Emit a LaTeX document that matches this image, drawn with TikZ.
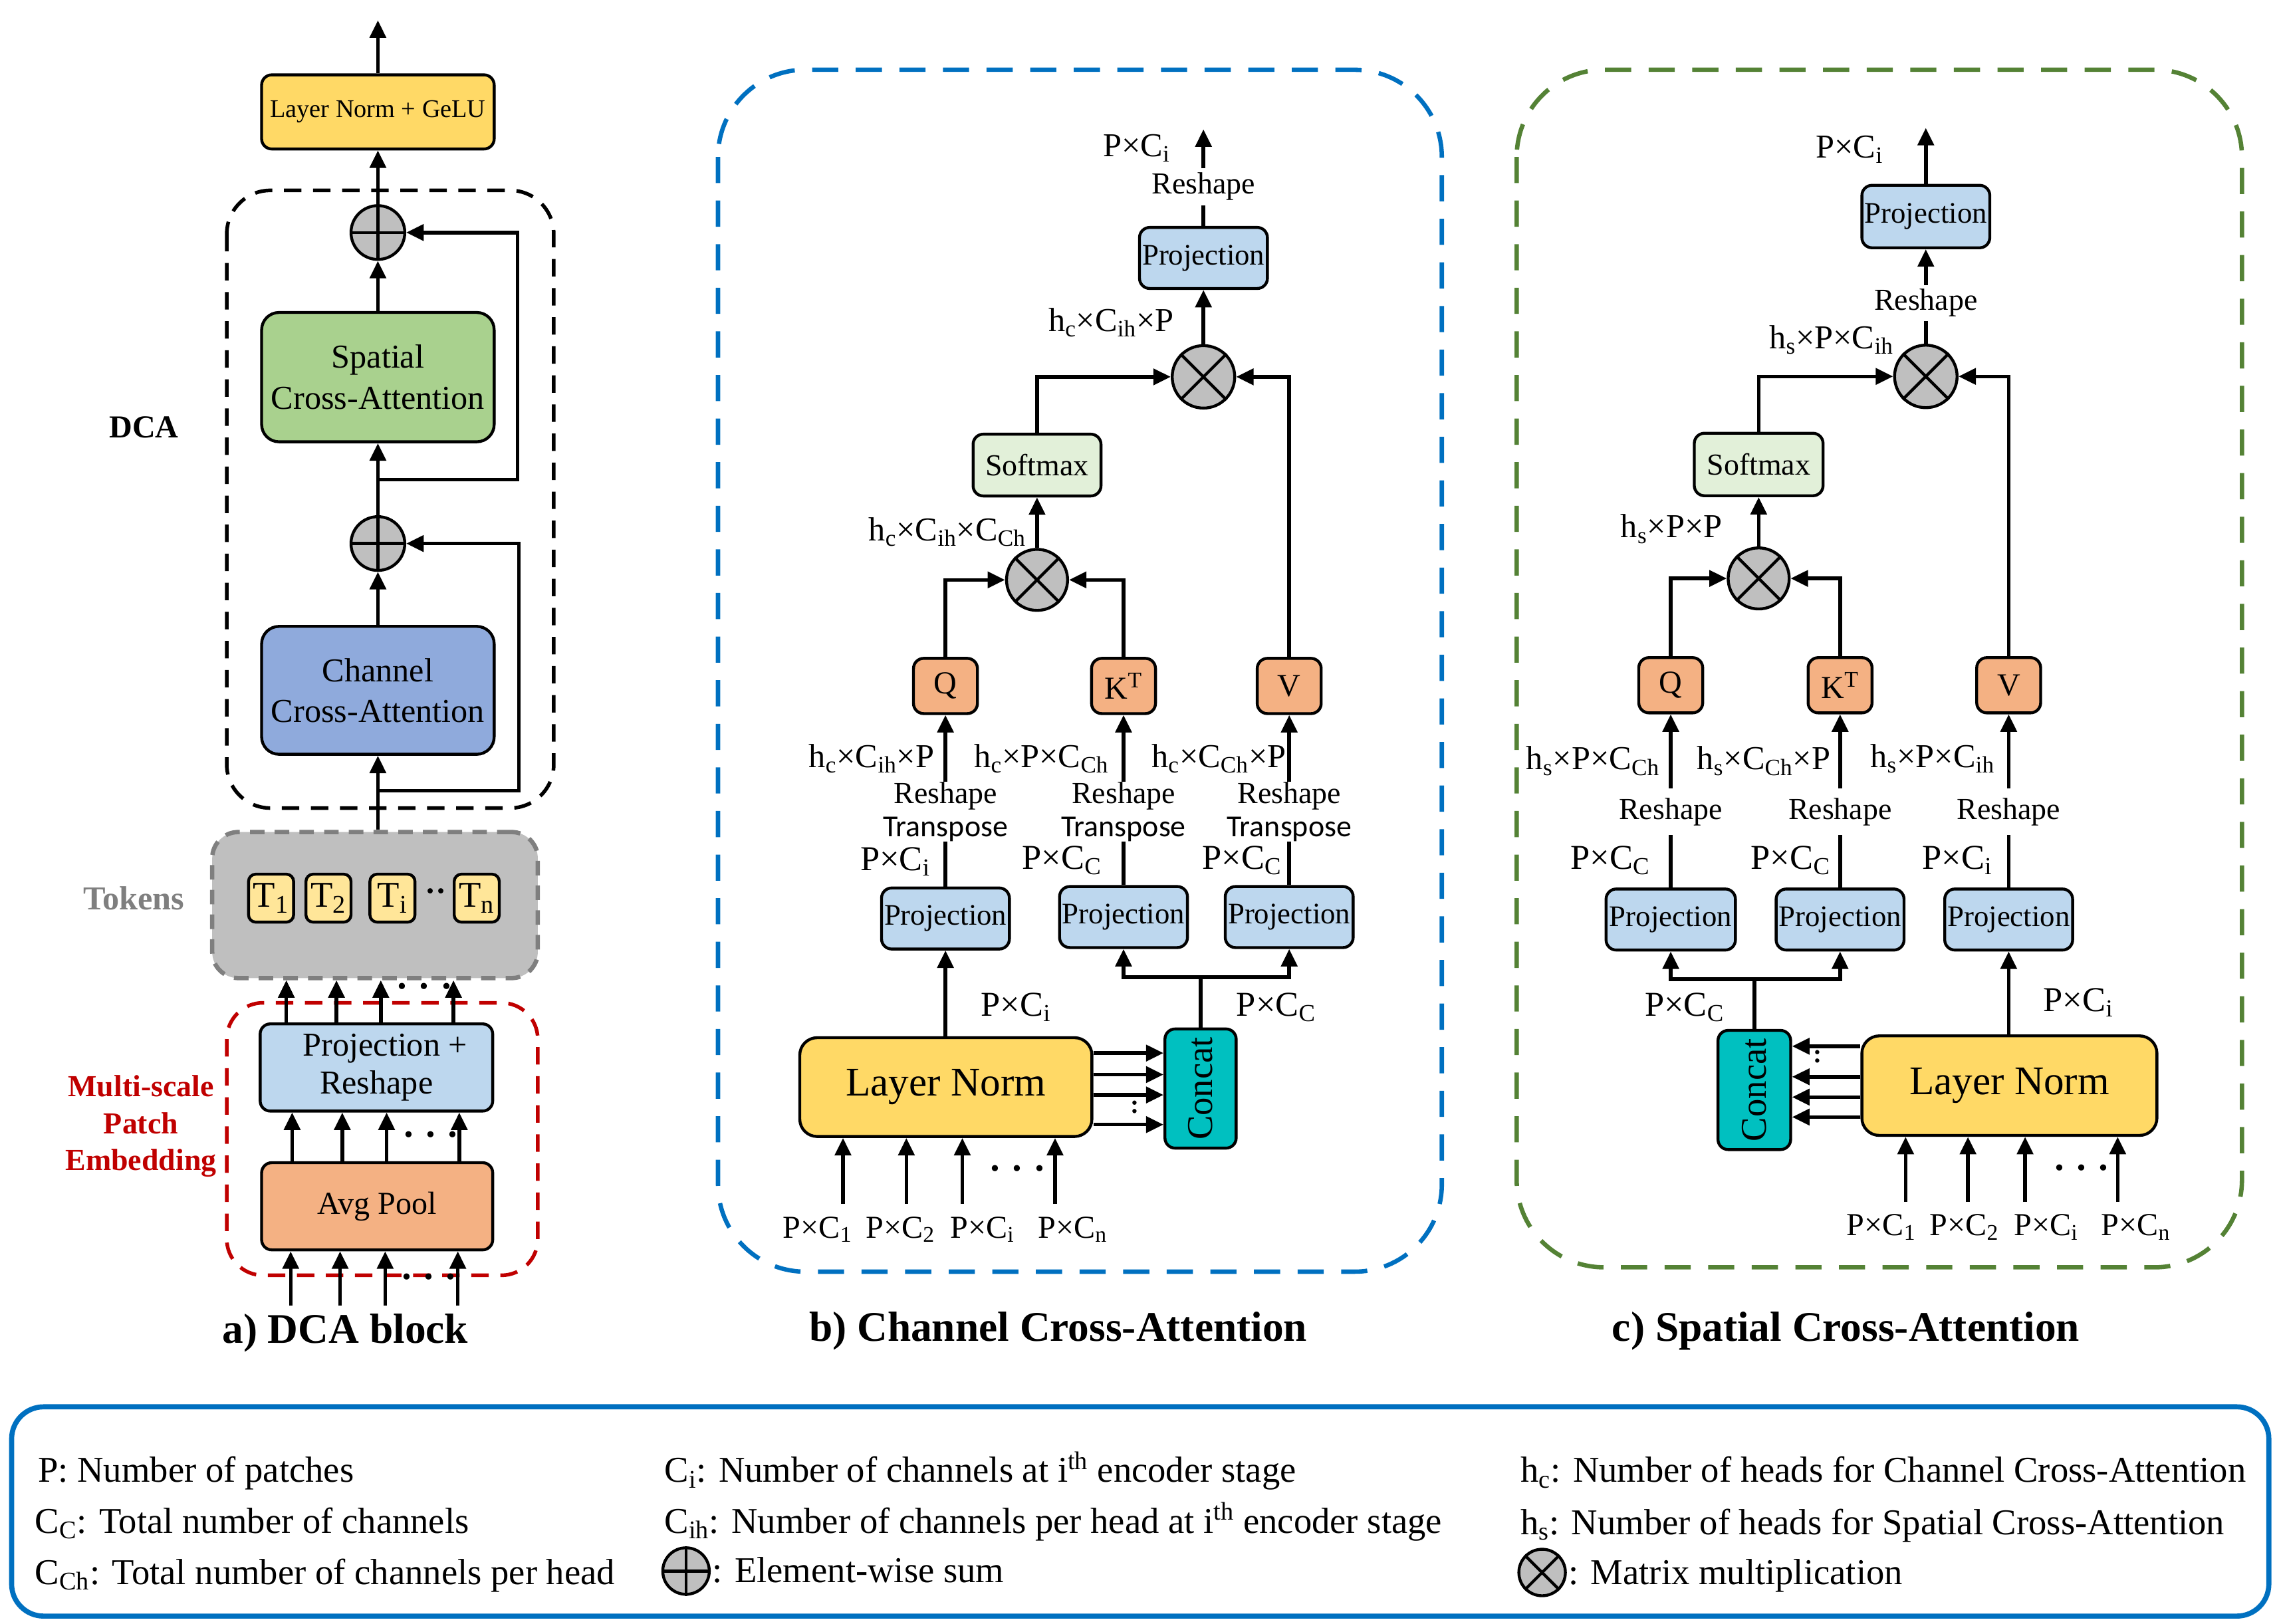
\documentclass[tikz,border=0pt]{standalone}
\usepackage{fontspec}
\usepackage{graphicx}
\setmainfont{Liberation Serif}
\newfontfamily\tfont{Carlito}
\usetikzlibrary{arrows.meta,calc}
\newcommand{\fsz}[2]{\fontsize{#1}{#2}\selectfont}
\newcommand{\sbs}[1]{\textsubscript{#1}}
\newcommand{\sps}[1]{\textsuperscript{#1}}
\definecolor{lnY}{HTML}{FFD966}
\definecolor{spG}{HTML}{A9D18E}
\definecolor{chB}{HTML}{8FAADC}
\definecolor{prB}{HTML}{BDD7EE}
\definecolor{orA}{HTML}{F4B183}
\definecolor{tokY}{HTML}{FFE699}
\definecolor{grC}{HTML}{BFBFBF}
\definecolor{grD}{HTML}{7F7F7F}
\definecolor{redD}{HTML}{C00000}
\definecolor{bluD}{HTML}{0070C0}
\definecolor{grnD}{HTML}{548235}
\definecolor{smG}{HTML}{E2F0D9}
\definecolor{concatC}{HTML}{00C0C0}
\tikzset{
 cline/.style={line width=2.5pt},
 carrow/.style={line width=2.5pt,-{Triangle[length=12pt,width=11pt]}},
 bx/.style={draw,line width=2pt,rounded corners=7pt,inner sep=0pt,align=center},
 opc/.style={circle,draw,fill=grC,line width=2pt,minimum size=#1,inner sep=0pt},
 dlbl/.style={inner sep=0pt,font=\fsz{23}{25}},
 blbl/.style={inner sep=0pt,font=\fsz{24}{27}},
 ilbl/.style={inner sep=0pt,font=\fsz{22}{25}},
 ttl/.style={inner sep=0pt,font=\fsz{29}{33}\bfseries},
 leg/.style={inner sep=0pt,font=\fsz{25}{28},anchor=base west},
 dotsl/.style={inner sep=0pt,font=\fsz{26}{28}\bfseries},
 pbx/.style={bx,fill=prB,minimum width=88pt,minimum height=42pt,font=\fsz{20.5}{24}},
 qbx/.style={bx,fill=orA,minimum width=44pt,minimum height=38pt,font=\fsz{22}{24}},
 rsl/.style={inner sep=0pt,align=center,font=\fsz{21}{23}},
}
\begin{document}
\begin{tikzpicture}[x=1pt,y=-1pt]
\useasboundingbox (0,0) rectangle (1568,1117);

%================ panel a =================
\draw[black,line width=2.5pt,dash pattern=on 12pt off 8pt,rounded corners=30pt] (156,131) rectangle (381,556);
\node[bx,fill=lnY,minimum width=160pt,minimum height=51pt,font=\fsz{17.5}{20}] (lng) at (260,77) {Layer Norm + GeLU};
\coordinate (outA) at (260,14);
\draw[carrow] (lng.north) -- (outA);
\node[bx,fill=spG,minimum width=160pt,minimum height=89pt,rounded corners=12pt,font=\fsz{23}{28}] (sp) at (260,259.5) {Spatial\\Cross-Attention};
\node[bx,fill=chB,minimum width=160pt,minimum height=88pt,rounded corners=12pt,font=\fsz{23}{28}] (ch) at (260,475) {Channel\\Cross-Attention};
\node[opc=37pt] (pl1) at (260,160) {};
\node[opc=37pt] (pl2) at (260,374) {};
\draw[line width=2pt] (pl1.north) -- (pl1.south) (pl1.west) -- (pl1.east);
\draw[line width=2pt] (pl2.north) -- (pl2.south) (pl2.west) -- (pl2.east);
\draw[carrow] (sp.north) -- (pl1.south);
\draw[carrow] (pl1.north) -- (lng.south);
\draw[carrow] (pl2.north) -- (sp.south);
\draw[carrow] (ch.north) -- (pl2.south);
\coordinate (sk1a) at (260,330);
\coordinate (sk1b) at (356,330);
\draw[carrow] (sk1a) -- (sk1b) |- (pl1.east);
\coordinate (sk2a) at (260,544);
\coordinate (sk2b) at (357,544);
\draw[carrow] (sk2a) -- (sk2b) |- (pl2.east);
\node[inner sep=0pt,font=\fsz{22}{24}\bfseries] (dcal) at (99,294) {DCA};

% tokens
\node[draw=grD,fill=grC,line width=3pt,dash pattern=on 10pt off 7pt,rounded corners=18pt,minimum width=224pt,minimum height=100.5pt] (tok) at (258,622.75) {};
\draw[carrow] (ch.south |- tok.north) -- (ch.south);
\node[bx,fill=tokY,minimum width=31pt,minimum height=33pt,rounded corners=5pt,font=\fsz{25}{28}] (t1) at (186.5,618) {T\sbs{1}};
\node[bx,fill=tokY,minimum width=31pt,minimum height=33pt,rounded corners=5pt,font=\fsz{25}{28}] (t2) at (226,618) {T\sbs{2}};
\node[bx,fill=tokY,minimum width=31pt,minimum height=33pt,rounded corners=5pt,font=\fsz{25}{28}] (ti) at (270,618) {T\sbs{i}};
\node[bx,fill=tokY,minimum width=31pt,minimum height=33pt,rounded corners=5pt,font=\fsz{25}{28}] (tn) at (328,618) {T\sbs{n}};
\node[dotsl,font=\fsz{22}{24}\bfseries] (tdots) at (300,616) {··};
\node[inner sep=0pt,font=\fsz{23}{25}\bfseries,text=grD] (tokl) at (92,618) {Tokens};

% multi-scale patch embedding
\draw[redD,line width=2.5pt,dash pattern=on 12pt off 8pt,rounded corners=25pt] (156,690) rectangle (370,877.5);
\node[bx,fill=prB,minimum width=160pt,minimum height=60pt,font=\fsz{23}{26}] (prr) at (259,734.5) {\hspace*{12pt}Projection +\\Reshape};
\node[bx,fill=orA,minimum width=159pt,minimum height=60pt,font=\fsz{22}{24}] (avg) at (259.5,830) {Avg Pool};
\foreach \xx in {197,231.5,262,312}{
  \path (\xx,0) coordinate (tt);
  \draw[carrow] (prr.north -| tt) -- (tok.south -| tt);
}
\foreach \xx in {201,235.5,266,316}{
  \path (\xx,0) coordinate (tt);
  \draw[carrow] (avg.north -| tt) -- (prr.south -| tt);
}
\foreach \xx in {200,234,265,315}{
  \path (\xx,898.5) coordinate (tt);
  \draw[carrow] (tt) -- (avg.south -| tt);
}
\node[dotsl] (ad1) at (292,682) {· · ·};
\node[dotsl] (ad2) at (296.5,784) {· · ·};
\node[dotsl] (ad3) at (295,882) {· · ·};
\node[inner sep=0pt,align=center,font=\fsz{21}{25.5}\bfseries,text=redD] (mspe) at (97,775) {Multi-scale\\Patch\\Embedding};
\node[ttl] (tta) at (237.5,917) {a) DCA block};

%================ panel b =================
\draw[bluD,line width=3pt,dash pattern=on 18pt off 12pt,rounded corners=60pt] (494,48) rectangle (992,875);
\node[bx,fill=lnY,minimum width=201pt,minimum height=68pt,rounded corners=12pt,font=\fsz{28}{32}] (lnb) at (650.75,748) {Layer Norm};
\node[bx,fill=concatC,minimum width=49pt,minimum height=82pt,font=\fsz{25}{26}] (ccb) at (826,749) {\rotatebox{90}{Concat}};
\node[pbx] (pb1) at (650.5,632) {Projection};
\node[pbx] (pb2) at (773,631) {Projection};
\node[pbx] (pb3) at (887,631) {Projection};
\node[qbx] (qb) at (650.5,472) {Q};
\node[qbx] (kb) at (773,472) {K\sps{T}};
\node[qbx] (vb) at (887,472) {V};
\node[rsl,minimum height=38pt] (rb1) at (650.5,558.5) {Reshape\\{\tfont Transpose}};
\node[rsl,minimum height=38pt] (rb2) at (773,558.5) {Reshape\\{\tfont Transpose}};
\node[rsl,minimum height=38pt] (rb3) at (887,558.5) {Reshape\\{\tfont Transpose}};
\draw[cline] (pb1.north) -- (rb1.south);
\draw[cline] (pb2.north) -- (rb2.south);
\draw[cline] (pb3.north) -- (rb3.south);
\draw[carrow] (rb1.north) -- (qb.south);
\draw[carrow] (rb2.north) -- (kb.south);
\draw[carrow] (rb3.north) -- (vb.south);
\node[dlbl,anchor=east] (lb1) at (643,522) {h\sbs{c}×C\sbs{ih}×P};
\node[dlbl,anchor=east] (lb2) at (763,522) {h\sbs{c}×P×C\sbs{Ch}};
\node[dlbl,anchor=east] (lb3) at (885,522) {h\sbs{c}×C\sbs{Ch}×P};
\node[blbl] (pcb1) at (616,593) {P×C\sbs{i}};
\node[blbl] (pcb2) at (730.6,592) {P×C\sbs{C}};
\node[blbl] (pcb3) at (854.4,592) {P×C\sbs{C}};
\draw[carrow] (lnb.north -| pb1.south) -- (pb1.south);
\node[blbl] (pcb4) at (699,693) {P×C\sbs{i}};
\coordinate (brb) at (826,672.3);
\draw[cline] (ccb.north) -- (brb);
\draw[carrow] (brb) -| (pb2.south);
\draw[carrow] (brb) -| (pb3.south);
\node[blbl] (pcb5) at (878,693) {P×C\sbs{C}};
\foreach \yy in {724.6,739.4,753.4,773.8}{
  \path (0,\yy) coordinate (tt);
  \draw[carrow] (lnb.east |- tt) -- (ccb.west |- tt);
}
\node[inner sep=0pt,font=\fsz{18}{20}\bfseries] (cdb) at (780.6,762) {:};
\foreach \xx in {580,623.6,662.1,725.9}{
  \path (\xx,828.4) coordinate (tt);
  \draw[carrow] (tt) -- (lnb.south -| tt);
}
\node[dotsl] (bd1) at (700,807) {· · ·};
\node[ilbl] (ib1) at (562.5,846) {P×C\sbs{1}};
\node[ilbl] (ib2) at (619.5,846) {P×C\sbs{2}};
\node[ilbl] (ib3) at (675.9,846) {P×C\sbs{i}};
\node[ilbl] (ib4) at (738,846) {P×C\sbs{n}};
\node[opc=42pt] (m1b) at (713.5,399) {};
\draw[line width=2pt] (m1b.north west) -- (m1b.south east) (m1b.north east) -- (m1b.south west);
\draw[carrow] (qb.north) |- (m1b.west);
\draw[carrow] (kb.north) |- (m1b.east);
\node[bx,fill=smG,minimum width=88pt,minimum height=42.5pt,font=\fsz{21}{24}] (sfb) at (713.5,320) {Softmax};
\draw[carrow] (m1b.north) -- (sfb.south);
\node[dlbl,anchor=east] (lb4) at (706,366) {h\sbs{c}×C\sbs{ih}×C\sbs{Ch}};
\node[opc=43pt] (m2b) at (828,259.3) {};
\draw[line width=2pt] (m2b.north west) -- (m2b.south east) (m2b.north east) -- (m2b.south west);
\draw[carrow] (sfb.north) |- (m2b.west);
\draw[carrow] (vb.north) |- (m2b.east);
\node[pbx] (ptb) at (828,177.5) {Projection};
\draw[carrow] (m2b.north) -- (ptb.south);
\node[dlbl] (lb5) at (764.5,222) {h\sbs{c}×C\sbs{ih}×P};
\node[rsl,minimum height=25pt] (rtb) at (828,128.5) {Reshape};
\draw[cline] (ptb.north) -- (rtb.south);
\coordinate (outB) at (828,89);
\draw[carrow] (rtb.north) -- (outB);
\node[dlbl,font=\fsz{23}{25}] (lb6) at (782,102) {P×C\sbs{i}};
\node[ttl] (ttb) at (728,916) {b) Channel Cross-Attention};

%================ panel c =================
\draw[grnD,line width=3pt,dash pattern=on 18pt off 12pt,rounded corners=60pt] (1043.5,48) rectangle (1542.5,872);
\node[bx,fill=lnY,minimum width=203pt,minimum height=68.5pt,rounded corners=12pt,font=\fsz{28}{32}] (lnc) at (1382.5,747) {Layer Norm};
\node[bx,fill=concatC,minimum width=50pt,minimum height=82pt,font=\fsz{25}{26}] (ccc) at (1207,750) {\rotatebox{90}{Concat}};
\node[pbx,minimum width=89pt] (pc1) at (1149.5,632.7) {Projection};
\node[pbx] (pc2) at (1266,632.7) {Projection};
\node[pbx] (pc3) at (1382,632.7) {Projection};
\node[qbx] (qc) at (1149.5,471.5) {Q};
\node[qbx] (kc) at (1266,471.5) {K\sps{T}};
\node[qbx] (vc) at (1382,471.5) {V};
\node[rsl,minimum height=32pt] (rc1) at (1149.5,558.5) {Reshape};
\node[rsl,minimum height=32pt] (rc2) at (1266,558.5) {Reshape};
\node[rsl,minimum height=32pt] (rc3) at (1382,558.5) {Reshape};
\draw[cline] (pc1.north) -- (rc1.south);
\draw[cline] (pc2.north) -- (rc2.south);
\draw[cline] (pc3.north) -- (rc3.south);
\draw[carrow] (rc1.north) -- (qc.south);
\draw[carrow] (rc2.north) -- (kc.south);
\draw[carrow] (rc3.north) -- (vc.south);
\node[dlbl,anchor=east] (lc1) at (1142,523.6) {h\sbs{s}×P×C\sbs{Ch}};
\node[dlbl,anchor=east] (lc2) at (1259.5,523.6) {h\sbs{s}×C\sbs{Ch}×P};
\node[dlbl,anchor=east] (lc3) at (1372.5,522) {h\sbs{s}×P×C\sbs{ih}};
\node[blbl] (pcc1) at (1107.8,592) {P×C\sbs{C}};
\node[blbl] (pcc2) at (1232,592) {P×C\sbs{C}};
\node[blbl] (pcc3) at (1346.7,592) {P×C\sbs{i}};
\coordinate (brc) at (1207,673.8);
\draw[cline] (ccc.north) -- (brc);
\draw[carrow] (brc) -| (pc1.south);
\draw[carrow] (brc) -| (pc2.south);
\node[blbl] (pcc4) at (1159,693) {P×C\sbs{C}};
\draw[carrow] (lnc.north -| pc3.south) -- (pc3.south);
\node[blbl] (pcc5) at (1430,690) {P×C\sbs{i}};
\foreach \yy in {719.9,740.9,754.9,768.6}{
  \path (0,\yy) coordinate (tt);
  \draw[carrow] (lnc.west |- tt) -- (ccc.east |- tt);
}
\node[inner sep=0pt,font=\fsz{18}{20}\bfseries] (cdc) at (1250.7,727) {:};
\foreach \xx in {1311.1,1354,1393.3,1457}{
  \path (\xx,827) coordinate (tt);
  \draw[carrow] (tt) -- (lnc.south -| tt);
}
\node[dotsl] (cd1) at (1432,806.6) {· · ·};
\node[ilbl] (ic1) at (1294.4,844.5) {P×C\sbs{1}};
\node[ilbl] (ic2) at (1351.4,844.5) {P×C\sbs{2}};
\node[ilbl] (ic3) at (1407.7,844.5) {P×C\sbs{i}};
\node[ilbl] (ic4) at (1469.5,844.5) {P×C\sbs{n}};
\node[opc=42pt] (m1c) at (1210,398) {};
\draw[line width=2pt] (m1c.north west) -- (m1c.south east) (m1c.north east) -- (m1c.south west);
\draw[carrow] (qc.north) |- (m1c.west);
\draw[carrow] (kc.north) |- (m1c.east);
\node[bx,fill=smG,minimum width=88.6pt,minimum height=43pt,font=\fsz{21}{24}] (sfc) at (1210,319.6) {Softmax};
\draw[carrow] (m1c.north) -- (sfc.south);
\node[dlbl] (lc4) at (1150,364) {h\sbs{s}×P×P};
\node[opc=43pt] (m2c) at (1325,259) {};
\draw[line width=2pt] (m2c.north west) -- (m2c.south east) (m2c.north east) -- (m2c.south west);
\draw[carrow] (sfc.north) |- (m2c.west);
\draw[carrow] (vc.north) |- (m2c.east);
\node[rsl,minimum height=24pt] (rtc) at (1325,208.5) {Reshape};
\node[pbx,minimum height=43pt] (ptc) at (1325,149) {Projection};
\draw[cline] (m2c.north) -- (rtc.south);
\draw[carrow] (rtc.north) -- (ptc.south);
\node[dlbl] (lc5) at (1260,234) {h\sbs{s}×P×C\sbs{ih}};
\coordinate (outC) at (1325,88);
\draw[carrow] (ptc.north) -- (outC);
\node[dlbl,font=\fsz{23}{25}] (lc6) at (1272.5,103) {P×C\sbs{i}};
\node[ttl] (ttc) at (1270,916) {c) Spatial Cross-Attention};

%================ legend =================
\draw[bluD,line width=3.5pt,rounded corners=22pt] (8,968) rectangle (1561,1112);
\node[leg] (g1) at (26,1020) {P: Number of patches};
\node[leg] (g2) at (24,1055) {C\sbs{C}: Total number of channels};
\node[leg] (g3) at (24,1090) {C\sbs{Ch}: Total number of channels per head};
\node[leg] (g4) at (457,1020) {C\sbs{i}: Number of channels at i\sps{th} encoder stage};
\node[leg] (g5) at (457,1055) {C\sbs{ih}: Number of channels per head at i\sps{th} encoder stage};
\node[opc=32pt] (gp) at (472,1081) {};
\draw[line width=2pt] (gp.north) -- (gp.south) (gp.west) -- (gp.east);
\node[leg] (g6) at (490,1089) {: Element-wise sum};
\node[leg] (g7) at (1046,1020) {h\sbs{c}: Number of heads for Channel Cross-Attention};
\node[leg] (g8) at (1046,1056) {h\sbs{s}: Number of heads for Spatial Cross-Attention};
\node[opc=32pt] (gm) at (1061,1082) {};
\draw[line width=2pt] (gm.north west) -- (gm.south east) (gm.north east) -- (gm.south west);
\node[leg] (g9) at (1079,1090) {: Matrix multiplication};
\end{tikzpicture}
\end{document}
